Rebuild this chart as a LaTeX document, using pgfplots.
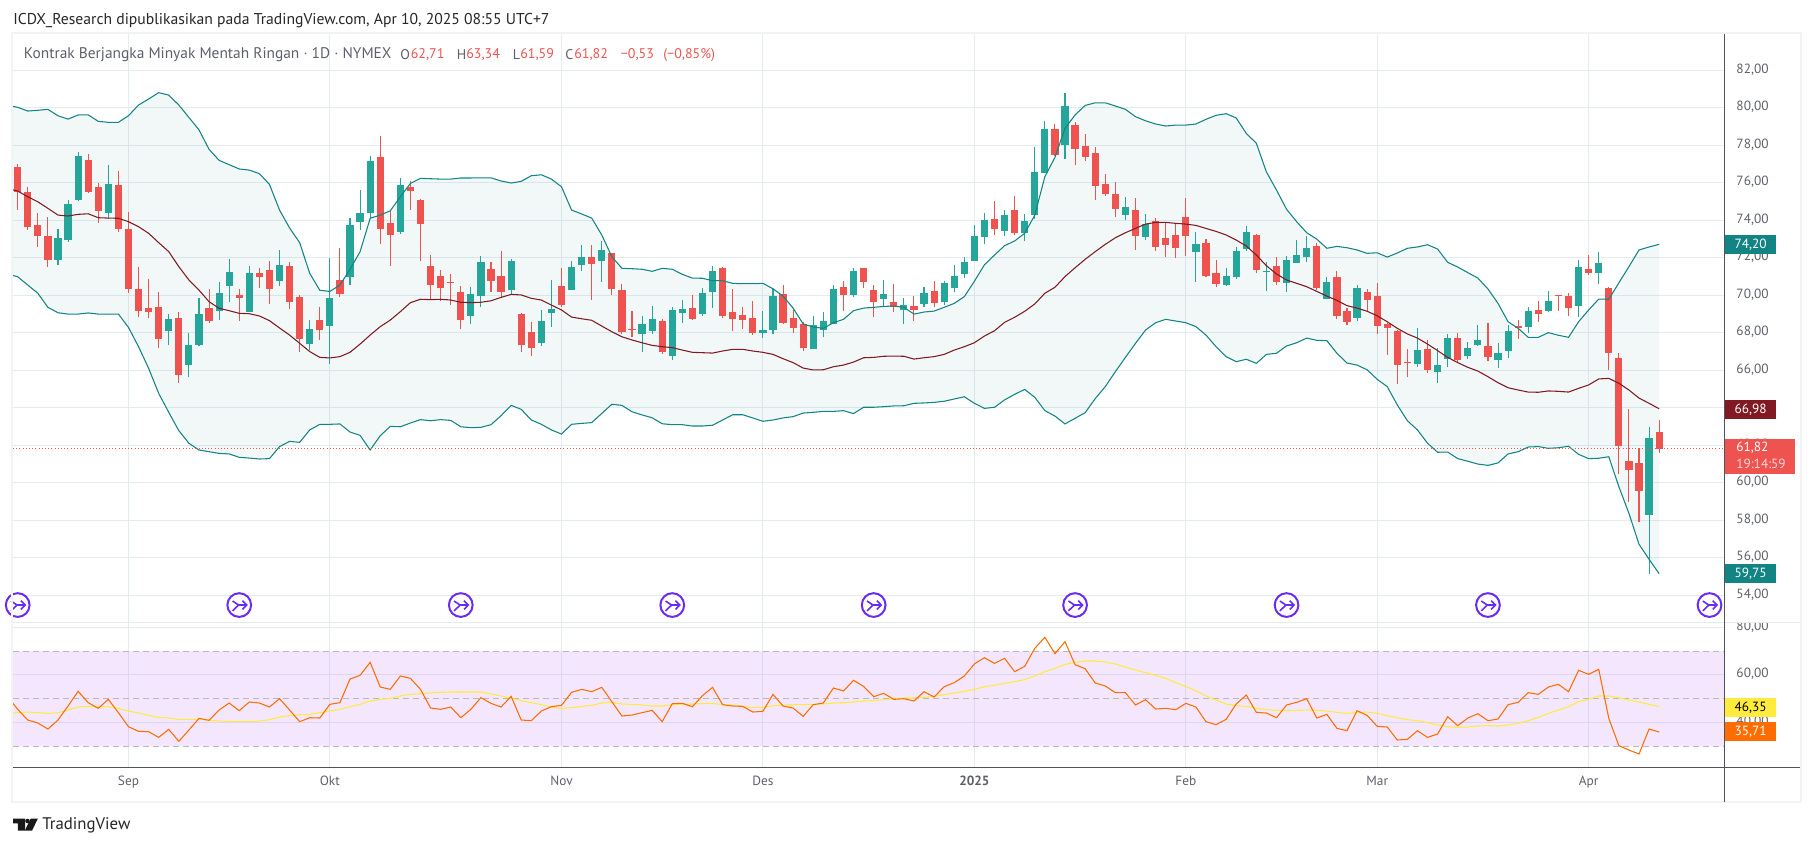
\documentclass[border=0pt]{standalone}
\usepackage{fontspec}
\setmainfont{PT Sans}
\usepackage{pgfplots}
\usepackage{pgfplotstable}
\pgfplotsset{compat=1.18}
\usepgfplotslibrary{fillbetween}
\definecolor{cg}{HTML}{26A69A}
\definecolor{cr}{HTML}{EF5350}
\definecolor{bbteal}{HTML}{138484}
\definecolor{bbm}{HTML}{801922}
\definecolor{grd}{HTML}{E4ECF2}
\definecolor{lab}{HTML}{5D606B}
\definecolor{axl}{HTML}{50535E}
\definecolor{rsio}{HTML}{FF6D00}
\definecolor{rsiy}{HTML}{FFEB3B}
\definecolor{rsif}{HTML}{9C27F0}
\definecolor{evt}{HTML}{6A2CF5}
\definecolor{brd}{HTML}{F2F3F4}

\pgfplotstableread{
i O H L C
4 71.88 73.54 71.62 73.06
5 72.95 75.08 72.84 74.87
6 75.08 77.64 75.03 77.43
9 74.39 76.95 74.07 75.94
15 68.10 69.00 67.35 68.74
17 66.28 67.99 65.64 67.35
18 67.35 69.86 67.30 69.00
20 69.16 70.71 68.68 70.12
21 70.50 71.94 69.64 71.24
23 69.11 71.56 69.10 71.19
26 70.76 72.42 70.50 71.62
29 67.40 68.68 67.08 68.20
31 68.36 71.99 66.34 69.86
33 70.98 74.12 70.55 73.75
34 73.91 75.62 73.48 74.39
35 74.39 77.43 74.12 77.16
38 73.38 76.26 73.27 75.88
45 68.90 70.44 68.47 70.07
46 69.96 72.10 69.38 71.78
49 70.28 71.94 70.02 71.83
52 67.46 69.22 67.30 68.63
53 69.06 70.82 68.31 69.27
55 70.28 71.83 70.26 71.51
56 71.62 72.68 71.30 72.04
58 71.83 72.90 70.71 72.42
62 67.94 68.90 66.98 68.47
63 68.10 69.43 67.94 68.74
65 66.76 69.38 66.55 69.22
66 69.06 69.75 68.52 69.27
68 69.00 70.39 68.90 70.12
69 70.18 71.56 69.32 71.30
74 67.99 69.16 67.72 68.15
75 68.15 70.34 67.94 69.96
79 67.14 68.90 67.13 68.42
80 68.15 69.11 67.78 68.63
81 68.47 70.55 68.46 70.34
83 70.02 71.46 69.91 71.30
86 69.80 70.82 69.43 70.07
88 69.22 69.86 68.47 69.48
90 69.54 70.44 69.38 70.12
92 69.64 70.76 69.48 70.66
93 70.39 71.62 70.18 71.03
94 71.14 72.04 70.92 71.78
95 71.83 73.75 71.82 73.16
96 73.11 74.39 72.74 74.02
98 73.43 74.55 73.16 74.28
100 73.32 74.34 72.90 73.96
101 74.28 77.91 74.07 76.58
102 76.52 79.30 76.50 78.87
104 78.02 80.79 77.27 80.10
110 74.28 75.24 74.02 74.71
112 73.11 74.34 72.95 73.80
117 72.31 73.38 70.71 72.74
120 70.55 71.46 70.50 71.03
121 70.98 72.58 70.87 72.36
122 72.47 73.70 72.36 73.38
124 71.24 71.78 70.23 71.30
126 70.66 72.10 70.18 71.88
127 71.72 72.95 71.71 72.15
128 72.04 73.16 71.78 72.52
130 69.80 70.98 69.79 70.71
133 68.79 70.55 68.63 70.39
139 66.34 68.26 66.18 67.08
141 65.91 67.19 65.32 66.28
142 66.60 67.94 66.18 67.72
144 66.76 67.51 66.60 67.19
145 67.35 68.42 67.30 67.62
147 66.55 67.46 66.12 66.92
148 67.03 68.42 66.66 68.10
150 68.31 69.38 67.99 69.16
152 69.16 70.23 69.11 69.70
155 69.43 71.88 68.84 71.51
157 71.19 72.31 70.60 71.72
162 58.28 62.98 55.14 62.39
}\candup

\pgfplotstableread{
i O H L C
0 76.84 77.00 74.55 75.51
1 75.51 75.78 73.48 73.64
2 73.75 74.39 72.58 73.16
3 73.16 74.18 71.51 71.88
7 77.22 77.54 75.47 75.51
8 75.78 75.99 73.86 74.50
10 75.88 76.63 73.38 73.54
11 73.54 74.44 70.12 70.34
12 70.34 71.51 68.84 69.16
13 69.32 70.87 68.79 69.11
14 69.38 70.18 67.19 67.67
16 68.79 69.11 65.32 65.75
19 69.32 70.34 68.52 68.63
22 70.02 70.34 68.63 69.86
24 71.19 71.46 70.39 70.98
25 71.35 71.83 69.54 70.34
27 71.56 71.78 69.27 69.64
28 69.91 70.02 66.98 67.67
30 68.68 69.38 67.62 68.15
32 70.82 72.52 69.91 70.07
36 77.38 78.50 72.74 73.54
37 73.86 74.50 71.56 73.22
39 75.78 76.10 74.55 75.56
40 75.08 75.14 71.83 73.80
41 71.56 72.15 69.75 70.55
42 71.03 71.35 69.70 70.39
43 70.71 71.14 69.48 70.66
44 70.18 70.50 68.20 68.68
47 71.40 71.78 70.18 70.76
48 71.03 72.36 69.86 70.18
50 69.00 69.06 66.98 67.35
51 68.04 68.58 66.76 67.19
54 70.50 71.46 69.38 69.48
57 72.04 72.68 69.75 71.67
59 72.26 72.27 70.02 70.34
60 70.28 70.60 67.94 68.04
61 68.20 69.16 67.78 68.15
64 68.63 68.74 66.87 66.98
67 69.32 70.02 68.68 68.74
70 71.46 71.51 68.79 68.90
71 69.11 70.34 68.10 68.74
72 68.95 69.38 68.20 68.68
73 68.79 69.70 67.88 67.99
76 70.07 70.55 68.50 68.52
77 68.79 69.22 67.99 68.26
78 68.47 68.58 67.03 67.19
82 70.44 70.76 69.16 70.02
84 71.45 71.46 70.39 70.71
85 70.28 70.55 68.84 69.64
87 69.64 70.60 69.11 69.38
89 69.43 69.96 68.63 69.22
91 70.23 70.76 69.38 69.59
97 74.07 75.03 73.22 73.54
99 74.55 75.30 73.22 73.32
103 78.87 79.14 77.43 77.48
105 79.08 79.24 76.95 77.80
106 77.96 78.60 77.16 77.38
107 77.59 77.91 75.08 75.83
108 75.94 76.47 75.30 75.40
109 75.40 76.04 74.18 74.60
111 74.55 75.19 72.42 73.16
113 73.96 74.12 72.36 72.58
114 73.06 73.86 72.04 72.68
115 73.22 73.86 71.99 72.52
116 74.18 75.19 72.10 73.16
118 72.79 73.00 70.98 71.03
119 71.19 71.88 70.44 70.60
123 73.22 73.27 71.19 71.35
125 71.56 72.04 70.55 70.71
129 72.63 72.79 70.28 70.39
131 70.98 71.30 68.74 68.90
132 69.16 69.32 68.42 68.58
134 70.18 70.34 69.11 69.75
135 69.96 70.66 67.94 68.36
136 68.47 68.52 66.82 68.26
137 68.10 68.15 65.27 66.28
138 66.44 67.14 65.64 66.39
140 67.14 67.62 65.86 66.02
143 67.72 67.99 66.39 66.55
146 67.30 68.52 66.50 66.71
149 68.36 68.68 67.67 68.26
151 69.22 69.70 68.58 69.00
153 70.00 70.02 69.16 69.96
154 69.96 70.12 68.90 69.32
156 71.40 72.15 71.08 71.19
158 70.39 70.44 66.02 66.92
159 66.66 66.92 60.47 61.98
160 61.16 63.94 58.98 60.68
161 61.06 61.86 57.91 59.56
163 62.71 63.34 61.59 61.82
}\canddown

\pgfplotstableread{
i U M B
-1 80.13 75.70 71.14
0 80.03 75.56 70.99
1 79.83 75.26 70.55
2 79.87 74.99 70.11
3 79.92 74.64 69.36
4 79.58 74.28 69.07
5 79.40 74.23 69.00
6 79.62 74.32 69.00
7 79.63 74.35 69.06
8 79.28 74.14 69.00
9 79.23 74.12 69.00
10 79.23 74.11 69.00
11 79.58 73.93 68.29
12 80.15 73.66 67.26
13 80.47 73.31 66.11
14 80.81 72.81 64.77
15 80.68 72.33 63.76
16 80.15 71.53 62.78
17 79.49 70.82 62.11
18 78.83 70.28 61.75
19 77.79 69.66 61.66
20 77.20 69.31 61.57
21 76.97 69.18 61.54
22 76.74 69.04 61.36
23 76.68 69.02 61.32
24 76.49 68.90 61.27
25 75.92 68.65 61.29
26 74.55 68.26 61.93
27 73.59 67.88 62.21
28 72.81 67.44 62.16
29 71.17 67.00 62.82
30 70.27 66.69 63.12
31 70.21 66.66 63.12
32 70.55 66.73 63.14
33 71.39 66.96 62.71
34 72.33 67.40 62.53
35 74.11 67.88 61.75
36 74.28 68.33 62.51
37 74.51 68.68 63.01
38 75.26 69.13 62.99
39 75.97 69.61 63.19
40 76.24 69.79 63.37
41 76.22 69.77 63.31
42 76.20 69.79 63.37
43 76.20 69.75 63.33
44 76.26 69.63 62.99
45 76.26 69.61 62.94
46 76.27 69.63 62.96
47 76.27 69.71 63.10
48 76.10 69.89 63.58
49 75.99 70.05 64.13
50 76.08 70.02 63.92
51 76.38 69.84 63.35
52 76.43 69.75 63.12
53 76.20 69.48 62.82
54 75.79 69.22 62.60
55 74.55 68.84 63.12
56 74.34 68.75 63.17
57 74.12 68.67 63.21
58 73.22 68.36 63.70
59 72.06 68.06 64.19
60 71.44 67.79 64.13
61 71.42 67.62 63.79
62 71.39 67.47 63.62
63 71.28 67.33 63.47
64 71.44 67.26 63.15
65 71.39 67.21 63.10
66 71.12 67.08 63.10
67 70.92 66.96 63.03
68 70.91 66.94 63.03
69 70.78 66.92 63.07
70 70.78 67.03 63.35
71 70.64 67.12 63.63
72 70.62 67.12 63.63
73 70.62 67.03 63.46
74 70.64 66.96 63.28
75 70.35 66.85 63.35
76 69.96 66.62 63.46
77 69.32 66.41 63.53
78 68.47 66.12 63.72
79 68.31 66.02 63.76
80 68.24 66.03 63.81
81 68.54 66.19 63.81
82 68.72 66.28 63.85
83 69.18 66.44 63.69
84 69.32 66.67 64.03
85 69.36 66.69 64.03
86 69.41 66.75 64.06
87 69.43 66.76 64.10
88 69.36 66.75 64.11
89 69.00 66.60 64.24
90 69.11 66.67 64.26
91 69.16 66.73 64.29
92 69.36 66.85 64.35
93 69.57 67.08 64.47
94 69.93 67.26 64.59
95 70.75 67.47 64.24
96 71.63 67.83 63.97
97 72.15 68.11 64.03
98 72.65 68.56 64.42
99 72.90 68.83 64.72
100 73.31 69.15 64.98
101 74.28 69.54 64.56
102 76.33 70.11 63.85
103 77.36 70.43 63.56
104 78.91 71.00 63.14
105 79.62 71.47 63.44
106 80.13 71.92 63.74
107 80.27 72.33 64.49
108 80.27 72.72 65.13
109 80.10 73.07 65.93
110 79.92 73.34 66.69
111 79.53 73.57 67.44
112 79.31 73.80 68.15
113 79.14 73.89 68.54
114 79.03 73.89 68.72
115 79.08 73.84 68.63
116 79.08 73.80 68.54
117 79.14 73.73 68.33
118 79.39 73.57 67.88
119 79.60 73.41 67.26
120 79.69 73.22 66.73
121 79.46 72.95 66.46
122 78.64 72.63 66.59
123 78.11 72.15 66.37
124 76.58 71.58 66.85
125 75.62 71.14 66.91
126 74.59 70.82 67.30
127 73.93 70.64 67.47
128 73.34 70.46 67.72
129 73.00 70.21 67.60
130 72.51 69.96 67.58
131 72.61 69.73 66.91
132 72.54 69.45 66.39
133 72.42 69.32 66.28
134 72.24 69.15 66.03
135 72.27 68.91 65.52
136 72.04 68.59 65.13
137 72.26 68.24 64.15
138 72.51 67.94 63.31
139 72.58 67.72 62.82
140 72.70 67.40 62.11
141 72.47 67.05 61.63
142 71.76 66.69 61.64
143 71.51 66.41 61.29
144 71.21 66.16 61.15
145 70.92 65.96 61.00
146 70.34 65.66 60.93
147 69.57 65.34 61.06
148 68.59 65.07 61.54
149 68.24 64.95 61.66
150 67.76 64.84 61.91
151 67.76 64.83 61.93
152 68.01 64.90 61.84
153 67.87 64.88 61.87
154 67.76 64.84 61.95
155 68.59 65.04 61.52
156 69.22 65.22 61.29
157 69.80 65.54 61.31
158 69.79 65.57 61.39
159 70.67 65.31 59.79
160 71.53 64.95 58.37
161 72.42 64.52 56.72
162 72.58 64.24 55.92
163 72.72 63.95 55.15
}\bb

\pgfplotstableread{
i R Y
-1 50.85 43.84
0 45.53 44.12
1 41.04 44.40
2 39.78 44.12
3 37.26 43.84
4 41.04 44.12
5 46.92 45.25
6 53.09 46.51
7 48.33 46.78
8 45.94 46.65
9 49.73 46.65
10 44.12 45.94
11 38.24 44.83
12 36.28 43.98
13 36.14 43.00
14 33.76 42.16
15 37.12 41.88
16 32.08 41.32
17 36.84 41.32
18 41.74 41.32
19 40.90 41.04
20 45.25 40.62
21 48.19 40.48
22 44.97 40.34
23 48.61 40.34
24 48.19 40.62
25 46.51 41.18
26 50.01 42.30
27 45.25 42.86
28 40.34 43.28
29 42.02 43.42
30 41.88 44.12
31 47.63 44.83
32 48.33 45.53
33 58.27 46.65
34 59.81 47.63
35 65.27 49.03
36 54.91 49.73
37 53.93 50.15
38 59.53 51.13
39 58.55 51.83
40 53.93 52.11
41 46.08 52.39
42 45.53 52.67
43 46.51 52.81
44 42.02 52.81
45 45.53 52.81
46 50.43 52.81
47 48.05 51.97
48 46.51 51.13
49 50.99 50.15
50 41.04 49.17
51 40.76 48.33
52 44.83 47.49
53 46.65 46.51
54 47.21 45.94
55 52.67 46.22
56 53.93 46.78
57 52.95 47.21
58 54.77 48.19
59 48.75 48.47
60 42.72 47.77
61 43.14 47.63
62 44.12 47.35
63 45.11 46.92
64 40.34 46.92
65 47.91 47.49
66 48.05 47.63
67 46.65 47.77
68 51.27 47.91
69 54.77 47.91
70 47.49 47.63
71 46.92 47.21
72 46.78 46.78
73 44.40 46.22
74 44.68 46.36
75 51.83 47.07
76 46.92 47.35
77 46.08 47.49
78 42.58 47.49
79 47.49 47.63
80 48.19 47.77
81 54.49 48.19
82 53.23 48.33
83 57.71 48.61
84 55.19 49.03
85 50.85 49.17
86 52.25 49.59
87 49.73 49.87
88 50.01 50.29
89 49.03 50.29
90 52.95 50.57
91 50.71 50.99
92 55.05 51.69
93 56.73 52.39
94 59.53 53.09
95 64.57 53.93
96 67.23 55.05
97 64.85 55.61
98 66.95 56.45
99 61.35 57.15
100 63.59 58.01
101 71.16 59.53
102 75.78 61.35
103 68.92 62.75
104 73.96 64.43
105 64.29 65.27
106 62.61 65.83
107 56.59 65.83
108 55.33 65.41
109 52.53 64.57
110 52.53 63.31
111 47.35 62.05
112 49.59 60.93
113 45.66 59.81
114 45.94 58.55
115 45.39 56.73
116 48.05 55.05
117 46.51 53.37
118 40.34 51.13
119 39.08 49.45
120 41.32 47.77
121 47.77 47.07
122 51.55 46.78
123 44.26 45.94
124 43.98 45.39
125 42.02 45.11
126 47.35 44.97
127 48.47 45.11
128 50.01 45.25
129 41.88 45.11
130 43.42 44.83
131 37.54 44.26
132 36.56 43.84
133 44.97 44.12
134 43.00 44.40
135 38.38 43.84
136 38.10 42.86
137 32.64 42.02
138 32.92 41.18
139 36.56 40.76
140 33.76 39.92
141 35.16 38.94
142 42.44 38.24
143 38.66 37.96
144 41.88 38.10
145 43.70 38.52
146 40.76 38.66
147 41.47 38.52
148 47.49 38.94
149 48.47 39.64
150 52.53 40.76
151 51.83 42.16
152 54.91 43.84
153 56.03 45.25
154 52.95 46.65
155 61.91 48.75
156 60.23 49.73
157 62.33 51.13
158 41.74 51.13
159 30.26 50.43
160 28.44 49.45
161 26.76 48.61
162 37.26 47.63
163 36.00 46.65
}\rsi

\pgfplotstableread{
i y
0 53.48
22 53.48
44 53.48
65 53.48
85 53.48
105 53.48
126 53.48
146 53.48
168 53.48
}\events

\pgfdeclareplotmark{evtmark}{%
  \pgfsetlinewidth{1.5pt}%
  \pgfsetstrokecolor{evt}\pgfsetfillcolor{white}%
  \pgfpathcircle{\pgfpointorigin}{8.9pt}\pgfusepathqfillstroke
  \pgfsetlinewidth{1.2pt}%
  \pgfpathmoveto{\pgfpoint{-5pt}{3pt}}\pgfpathlineto{\pgfpoint{-0.5pt}{0pt}}\pgfpathlineto{\pgfpoint{5.6pt}{0pt}}%
  \pgfpathmoveto{\pgfpoint{2.4pt}{3.3pt}}\pgfpathlineto{\pgfpoint{5.6pt}{0pt}}\pgfpathlineto{\pgfpoint{2.4pt}{-3.3pt}}%
  \pgfpathmoveto{\pgfpoint{-0.5pt}{0pt}}\pgfpathlineto{\pgfpoint{-5pt}{-4.4pt}}%
  \pgfusepathqstroke
}

\pgfplotsset{
  chartbase/.style={
    scale only axis,
    xmin=-0.467, xmax=169.47,
    xtick={11,31,54,74,95,116,135,156},
    grid=major,
    grid style={line width=.75pt,draw=grd},
    major tick length=0pt,
    axis x line*=bottom, axis y line*=right,
    axis line style={draw=none},
    tick align=outside,
    y tick label style={anchor=west,xshift=5.6pt,yshift=.7pt,font=\fontsize{10}{12}\selectfont,text=lab},
    yticklabel style={/pgf/number format/fixed,/pgf/number format/fixed zerofill,/pgf/number format/precision=2,/pgf/number format/use comma,/pgf/number format/assume math mode=true},
    xticklabel style={font=\fontsize{10}{12}\selectfont,text=lab,anchor=base,yshift=-13.5pt},
  },
}

\begin{document}
\begin{tikzpicture}

%% RSI pane
\begin{axis}[chartbase,
  at={(9.75pt,59.025pt)}, anchor=south west,
  width=1283.475pt, height=108.75pt,
  ymin=21.18, ymax=82.1,
  ytick={40,60,80},
  xticklabels={Sep,Okt,Nov,Des,\textbf{2025},Feb,Mar,Apr},
]
\addplot[draw=none,fill=rsif,fill opacity=.11,forget plot] coordinates {(-0.467,30) (169.47,30) (169.47,70) (-0.467,70) (-0.467,30)};
\addplot[line width=.75pt,color=black!28,dash pattern=on 4.5pt off 3pt,forget plot] coordinates {(-0.467,70)(169.47,70)};
\addplot[line width=.75pt,color=black!28,dash pattern=on 4.5pt off 3pt,forget plot] coordinates {(-0.467,50)(169.47,50)};
\addplot[line width=.75pt,color=black!28,dash pattern=on 4.5pt off 3pt,forget plot] coordinates {(-0.467,30)(169.47,30)};
\addplot[line width=.8pt,color=rsiy,forget plot] table[x=i,y=Y]{\rsi};
\addplot[line width=.8pt,color=rsio,forget plot] table[x=i,y=R]{\rsi};
\end{axis}

\fill[white] (1293.5pt,167.8pt) rectangle (1350pt,186pt);

%% price pane
\begin{axis}[chartbase,
  at={(9.75pt,167.775pt)}, anchor=south west,
  width=1283.475pt, height=441.225pt,
  ymin=52.56, ymax=83.94,
  ytick={54,56,58,60,62,64,66,68,70,72,74,76,78,80,82},
  xticklabels={},
]
\addplot[draw=none,name path=U,forget plot] table[x=i,y=U]{\bb};
\addplot[draw=none,name path=B,forget plot] table[x=i,y=B]{\bb};
\addplot[fill=bbteal,fill opacity=.055,draw=none,forget plot] fill between[of=U and B];

\addplot[forget plot,draw=none,mark=none,error bars/.cd,y dir=both,y explicit,error mark=none,error bar style={line width=.8pt,draw=cg,solid}]
  table[x=i,y=C,y error plus expr=\thisrow{H}-\thisrow{C},y error minus expr=\thisrow{C}-\thisrow{L}]{\candup};
\addplot[forget plot,draw=none,mark=none,error bars/.cd,y dir=both,y explicit,error mark=none,error bar style={line width=5.4pt,draw=cg,solid}]
  table[x=i,y=C,y error plus expr=0,y error minus expr=\thisrow{C}-\thisrow{O}]{\candup};
\addplot[forget plot,draw=none,mark=none,error bars/.cd,y dir=both,y explicit,error mark=none,error bar style={line width=.8pt,draw=cr,solid}]
  table[x=i,y=C,y error plus expr=\thisrow{H}-\thisrow{C},y error minus expr=\thisrow{C}-\thisrow{L}]{\canddown};
\addplot[forget plot,draw=none,mark=none,error bars/.cd,y dir=both,y explicit,error mark=none,error bar style={line width=5.4pt,draw=cr,solid}]
  table[x=i,y=C,y error plus expr=\thisrow{O}-\thisrow{C},y error minus expr=0]{\canddown};

\addplot[line width=.8pt,color=bbteal,forget plot] table[x=i,y=U]{\bb};
\addplot[line width=.8pt,color=bbteal,forget plot] table[x=i,y=B]{\bb};
\addplot[line width=.8pt,color=bbm,forget plot] table[x=i,y=M]{\bb};
\addplot[line width=.75pt,color=cr,dash pattern=on .8pt off 1.6pt,forget plot] coordinates {(-0.467,61.82)(169.47,61.82)};
\addplot[only marks,mark=evtmark,forget plot] table[x=i,y=y]{\events};
\end{axis}

%% frame and labels, px coordinates
\begin{scope}[x=.75pt,y=-.75pt,yshift=634.5pt]
\draw[line width=1.5pt,brd] (12,33.5) rectangle (1801,802);
\draw[line width=.75pt,grd] (13,622.3) -- (1800,622.3);
\draw[line width=.9pt,axl] (13,767.3) -- (1800,767.3);
\draw[line width=.9pt,axl] (1724.3,34) -- (1724.3,802);

\tikzset{bdg/.style={anchor=west,inner sep=0pt,minimum height=19*.75pt,minimum width=51*.75pt,font=\fontsize{10}{12}\selectfont,text=white,align=center}}
\node[bdg,fill=bbteal] at (1724.8,244.5) {74,20};
\node[bdg,fill=bbm] at (1724.8,409.5) {66,98};
\node[anchor=west,inner sep=0pt,minimum height=35*.75pt,minimum width=70*.75pt,fill=cr] at (1724.8,456.5) {};
\node[anchor=west,inner sep=0pt,font=\fontsize{10}{12}\selectfont,text=white] at (1736,447.5) {61,82};
\node[anchor=west,inner sep=0pt,font=\fontsize{10}{12}\selectfont,text=white!75!cr] at (1736,463.5) {19:14:59};
\node[bdg,fill=bbteal] at (1724.8,574) {59,75};
\node[bdg,fill=rsiy,text=black] at (1724.8,707.5) {46,35};
\node[bdg,fill=rsio] at (1724.8,732) {35,71};

\node[anchor=west,inner sep=0pt,font=\fontsize{11.75}{14}\selectfont,text=black!85] at (13,20.5) {ICDX\_Research dipublikasikan pada TradingView.com, Apr 10, 2025 08:55 UTC+7};
\tikzset{lgd/.style={anchor=west,inner sep=0pt,font=\fontsize{10.5}{13}\selectfont}}
\node[anchor=west,inner sep=0pt,font=\fontsize{11.55}{14}\selectfont,text=lab] at (23.7,54.8) {Kontrak Berjangka Minyak Mentah Ringan · 1D · NYMEX};
\node[lgd,text=lab] at (400,55) {O};\node[lgd,text=cr] at (410.5,55) {62,71};
\node[lgd,text=lab] at (456.7,55) {H};\node[lgd,text=cr] at (466,55) {63,34};
\node[lgd,text=lab] at (512.5,55) {L};\node[lgd,text=cr] at (520,55) {61,59};
\node[lgd,text=lab] at (565,55) {C};\node[lgd,text=cr] at (574,55) {61,82};
\node[lgd,text=cr] at (620.6,55) {−0,53};
\node[lgd,text=cr] at (663,55) {(−0,85\%)};

\fill[black!90] (13.2,818.7) -- (25,818.7) -- (25,830.7) -- (17.8,830.7) -- (17.8,823.4) -- (13.2,823.4) -- cycle;
\fill[black!90] (27.5,821) circle (2.3);
\fill[black!90] (37.8,818.7) -- (32,830.7) -- (24.8,830.7) -- (30.6,818.7) -- cycle;
\node[anchor=west,inner sep=0pt,font=\fontsize{12.6}{15}\selectfont,text=black!85] at (42,825.5) {TradingView};
\end{scope}
\path[use as bounding box] (0,0) rectangle (1360.5pt,634.5pt);
\end{tikzpicture}
\end{document}
